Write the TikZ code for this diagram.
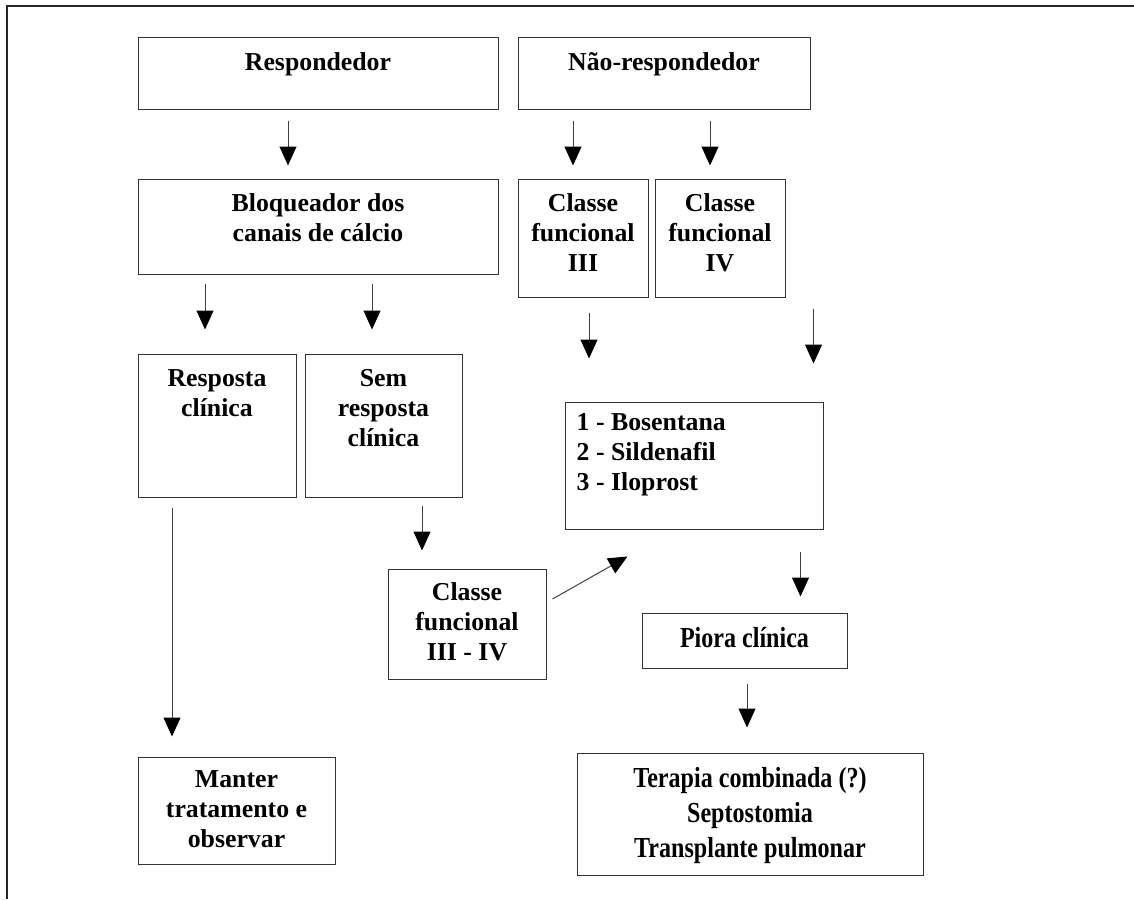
\documentclass[tikz,border=0pt]{standalone}
\usepackage{fontspec}
\setmainfont{Liberation Serif}
\newfontfamily\largefont[FakeStretch=0.83]{Liberation Serif}
\usetikzlibrary{arrows.meta}

\tikzset{
    caixa/.style={draw=black!80, line width=1pt, inner sep=0pt},
    txt/.style={font=\bfseries\fontsize{25.8}{30}\selectfont, align=center,
        inner sep=0pt, anchor=north, yshift=-14.5pt},
    txtg/.style={font=\largefont\bfseries\fontsize{29}{35}\selectfont, align=center,
        inner sep=0pt, anchor=north, yshift=-15pt},
    seta/.style={draw=black!75, line width=1pt,
        -{Triangle[width=17pt,length=19pt,black]}},
}

\begin{document}
\begin{tikzpicture}[x=1pt, y=-1pt]
    \useasboundingbox (0,0) rectangle (1134,899);
    % Moldura
    \draw[black!85, line width=2pt] (7,899) -- (7,6) -- (1134,6);

    % Primeira linha
    \node[caixa, minimum width=360, minimum height=71,
        label={[txt]north:Respondedor}] (resp) at (318,73.5) {};
    \node[caixa, minimum width=292, minimum height=71,
        label={[txt]north:Não-respondedor}] (nao) at (664,73.5) {};

    % Segunda linha
    \node[caixa, minimum width=360, minimum height=95,
        label={[txt]north:Bloqueador dos\\canais de cálcio}] (bloq) at (318,226.5) {};
    \node[caixa, minimum width=130, minimum height=118,
        label={[txt]north:Classe\\funcional\\III}] (cf3) at (583,238) {};
    \node[caixa, minimum width=130, minimum height=118,
        label={[txt]north:Classe\\funcional\\IV}] (cf4) at (720,238) {};

    % Resposta ao bloqueador
    \node[caixa, minimum width=158, minimum height=143,
        label={[txt, yshift=-1.5pt]north:Resposta\\clínica}] (resp clin) at (217,425.5) {};
    \node[caixa, minimum width=157, minimum height=143,
        label={[txt, yshift=-1pt]north:Sem\\resposta\\clínica}] (sem resp) at (383.5,425.5) {};

    % Medicamentos
    \node[caixa, minimum width=258, minimum height=127,
        label={[txt, anchor=north west, align=left, xshift=12pt, yshift=2.5pt]north west:%
            1 - Bosentana\\2 - Sildenafil\\3 - Iloprost}] (drogas) at (694,465.5) {};
    \node[caixa, minimum width=158, minimum height=110,
        label={[txt, yshift=1pt]north:Classe\\funcional\\III - IV}] (cf34) at (467,624) {};
    \node[caixa, minimum width=205, minimum height=55,
        label={[txtg]north:Piora clínica}] (piora) at (744.5,640.5) {};

    % Desfechos
    \node[caixa, minimum width=197, minimum height=107,
        label={[txt, yshift=0.5pt]north:Manter\\tratamento e\\observar}] (manter) at (236.5,810.5) {};
    \node[caixa, minimum width=346, minimum height=122,
        label={[txtg]north:Terapia combinada (?)\\Septostomia\\Transplante pulmonar}] (terapia) at (750,814) {};

    % Setas
    \draw[seta, shorten <=11pt, shorten >=13pt]
        ([xshift=-30pt]resp.south) -- ([xshift=-30pt]resp.south |- bloq.north);
    \draw[seta, shorten <=11pt, shorten >=13pt]
        ([xshift=-10pt]cf3.north |- nao.south) -- ([xshift=-10pt]cf3.north);
    \draw[seta, shorten <=11pt, shorten >=13pt]
        ([xshift=-10pt]cf4.north |- nao.south) -- ([xshift=-10pt]cf4.north);
    \draw[seta, shorten <=9pt, shorten >=24pt]
        ([xshift=-12pt]resp clin.north |- bloq.south) -- ([xshift=-12pt]resp clin.north);
    \draw[seta, shorten <=9pt, shorten >=24pt]
        ([xshift=-11.5pt]sem resp.north |- bloq.south) -- ([xshift=-11.5pt]sem resp.north);
    \draw[seta, shorten <=10pt, shorten >=20pt]
        ([xshift=-45pt]resp clin.south) -- ([xshift=-45pt]resp clin.south |- manter.north);
    \draw[seta, shorten <=8pt, shorten >=18pt]
        ([xshift=38.5pt]sem resp.south) -- ([xshift=38.5pt]sem resp.south |- cf34.north);
    \draw[seta] ([xshift=6pt, yshift=25pt]cf34.east) -- ([xshift=63pt, yshift=-27pt]drogas.south west);
    \draw[seta, shorten <=15pt, shorten >=43pt]
        ([xshift=6pt]cf3.south) -- ([xshift=6pt]cf3.south |- drogas.north);
    \draw[seta, shorten <=11pt, shorten >=38pt]
        ([xshift=-10pt]drogas.north east |- cf4.south) -- ([xshift=-10pt]drogas.north east);
    \draw[seta, shorten <=22pt, shorten >=16pt]
        ([xshift=-23pt]drogas.south east) -- ([xshift=-23pt]drogas.south east |- piora.north);
    \draw[seta, shorten <=15pt, shorten >=25pt]
        ([xshift=2.5pt]piora.south) -- ([xshift=2.5pt]piora.south |- terapia.north);
\end{tikzpicture}
\end{document}
